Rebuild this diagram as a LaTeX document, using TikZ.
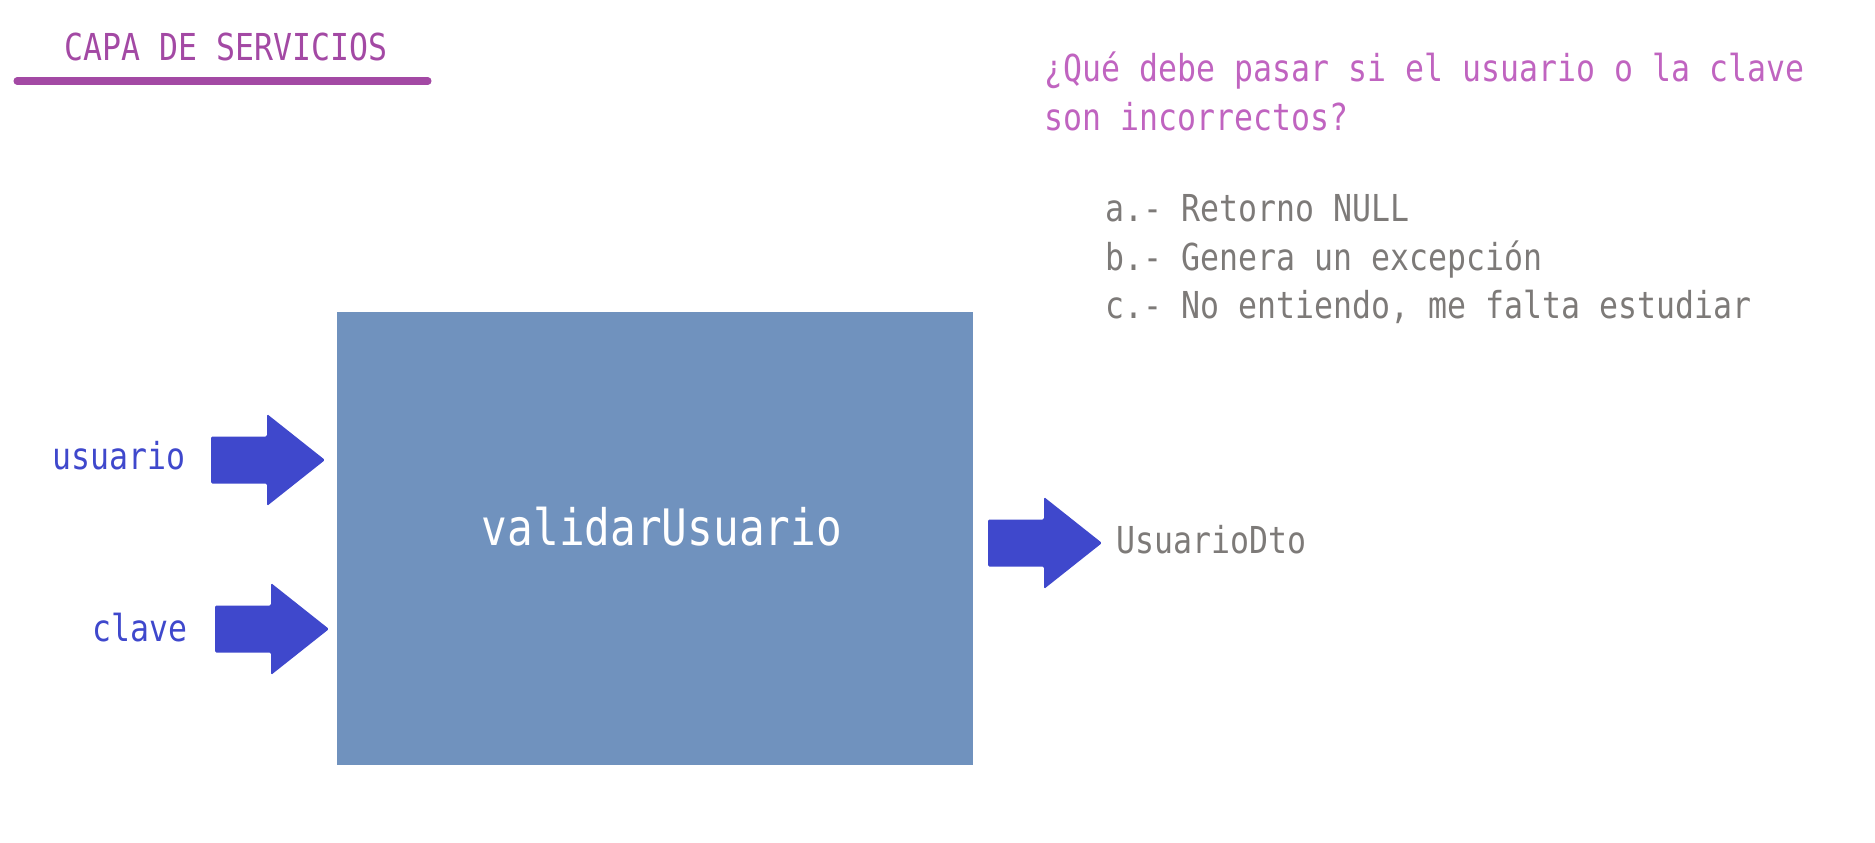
\documentclass[tikz,border=0pt]{standalone}
\usepackage{fontspec}
\setmainfont{DejaVu Sans Mono}[FakeStretch=0.85]
\definecolor{titulo}{HTML}{A349A4}
\definecolor{pregunta}{HTML}{C064C0}
\definecolor{gris}{HTML}{7D7A78}
\definecolor{azul}{HTML}{3F48CC}
\definecolor{caja}{HTML}{7092BE}
\tikzset{
  texto/.style={font=\fontsize{10.56}{12}\selectfont,inner sep=0pt},
  flecha/.pic={\fill[azul,rounded corners=0.4pt] (0,-0.235)--(0.56,-0.235)--(0.56,-0.46)--(1.14,0)--(0.56,0.46)--(0.56,0.235)--(0,0.235)--cycle;},
}
\begin{document}
\begin{tikzpicture}
\useasboundingbox (0,0) rectangle (18.75,8.42);
% titulo
\node[texto,text=titulo] (tit) at (2.26,7.95) {CAPA DE SERVICIOS};
\draw[titulo,line width=2pt,line cap=round] (0.17,7.61)--(4.28,7.61);
% pregunta y opciones
\node[texto,text=pregunta,anchor=base west] (preg1) at (10.44,7.61) {¿Qué debe pasar si el usuario o la clave};
\node[texto,text=pregunta,anchor=base west] (preg2) at (10.44,7.12) {son incorrectos?};
\foreach \op [count=\i] in {a.- Retorno NULL, b.- Genera un excepción, {c.- No entiendo, me falta estudiar}}
  \node[texto,text=gris,anchor=base west] (op\i) at (11.05,6.69-\i*0.485) {\op};
% servicio
\node[fill=caja,minimum width=6.36cm,minimum height=4.53cm,inner sep=0] (serv) at (6.55,3.035) {};
\node[font=\fontsize{14.3}{16}\selectfont,text=white] (metodo) at (6.62,3.15) {validarUsuario};
% entradas y salida
\node[texto,text=azul,anchor=base east] (usuario) at (1.86,3.73) {usuario};
\node[texto,text=azul,anchor=base east] (clave) at (1.88,2.01) {clave};
\pic at (2.11,3.82) {flecha};
\pic at (2.15,2.13) {flecha};
\pic at (9.88,2.99) {flecha};
\node[texto,text=gris,anchor=base west] (dto) at (11.16,2.89) {UsuarioDto};
\end{tikzpicture}
\end{document}
